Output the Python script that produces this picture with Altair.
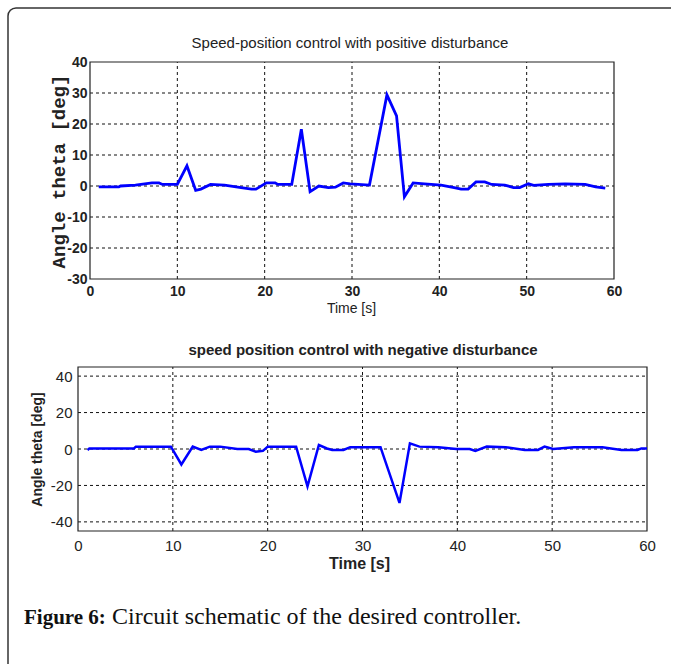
import altair as alt
import pandas as pd

# ---------------- data ----------------
top_time = [1.0, 3.3, 3.5, 5.2, 7.1, 7.9, 8.3, 10.0, 11.1, 12.1, 12.7, 13.8, 15.4, 17.3, 18.5, 19.0,
            20.2, 21.2, 21.5, 23.1, 24.2, 25.2, 26.2, 27.3, 28.1, 29.0, 29.8, 32.0, 34.0, 35.1, 36.0,
            37.0, 38.3, 40.2, 41.7, 42.5, 43.3, 44.2, 45.2, 46.0, 47.5, 48.5, 49.2, 50.2, 50.8, 52.5,
            54.4, 56.7, 57.9, 59.0]
top_theta = [-0.3, -0.3, 0.0, 0.3, 1.0, 1.0, 0.5, 0.5, 6.5, -1.4, -1.0, 0.5, 0.3, -0.5, -1.0, -1.0,
             1.0, 1.0, 0.5, 0.5, 18.3, -1.8, 0.0, -0.5, -0.4, 1.0, 0.7, 0.3, 29.4, 22.6, -3.5,
             1.0, 0.7, 0.3, -0.5, -1.0, -1.0, 1.3, 1.3, 0.5, 0.3, -0.5, -0.5, 0.7, 0.2, 0.5,
             0.7, 0.5, -0.3, -0.7]

bot_time = [1.0, 1.2, 5.9, 6.1, 9.8, 10.9, 12.1, 13.0, 13.9, 15.0, 16.8, 18.0, 18.75, 19.5, 20.0,
            23.0, 24.2, 25.4, 26.25, 26.8, 28.0, 28.7, 31.9, 33.9, 35.0, 36.0, 38.0, 39.9, 41.3,
            41.9, 43.1, 45.1, 47.1, 48.5, 49.2, 50.1, 52.3, 55.3, 57.3, 59.0, 59.4, 60.0]
bot_theta = [-0.5, 0.3, 0.3, 1.3, 1.3, -8.5, 1.3, -0.5, 1.3, 1.3, 0.0, 0.0, -1.5, -1.0, 1.3,
             1.3, -20.5, 2.2, 0.3, -0.5, -0.5, 1.0, 1.0, -29.6, 3.1, 1.3, 1.0, 0.0, 0.0,
             -1.1, 1.3, 1.0, -0.5, -0.5, 1.3, 0.0, 1.0, 1.0, -0.5, -0.5, 0.3, 0.3]

x_ticks = [0, 10, 20, 30, 40, 50, 60]
top_y_ticks = [-30, -20, -10, 0, 10, 20, 30, 40]
bot_y_ticks = [-40, -20, 0, 20, 40]

top_title = "Speed-position control with positive disturbance"
bot_title = "speed position control with negative disturbance"
y_title = "Angle theta [deg]"
x_title = "Time [s]"
caption_bold = "Figure 6:"
caption_rest = "Circuit schematic of the desired controller."

SANS = "Liberation Sans, Arial, sans-serif"
MONO = "Liberation Mono, Courier New, monospace"
SERIF = "Liberation Serif, Times New Roman, serif"
GRID = dict(stroke="#111111", strokeWidth=1, strokeDash=[3, 3])
LABEL = "'' + datum.value"
W = 569
one = pd.DataFrame({"k": [0]})


def panel(time, theta, x_dom, y_dom, x_range, y_grid, x_grid, xaxis, yaxis, line_w):
    xs = alt.Scale(domain=x_dom, range=x_range, nice=False, zero=False) if x_range else \
        alt.Scale(domain=x_dom, nice=False, zero=False)
    ys = alt.Scale(domain=y_dom, nice=False, zero=False)

    hg = pd.DataFrame({"v": y_grid, "a": x_dom[0], "b": x_dom[1]})
    vg = pd.DataFrame({"v": x_grid, "a": y_dom[0], "b": y_dom[1]})
    fr = pd.DataFrame({"x0": [x_dom[0]], "x1": [x_dom[1]], "y0": [y_dom[0]], "y1": [y_dom[1]]})
    df = pd.DataFrame({"t": time, "theta": theta})

    h_rules = alt.Chart(hg).mark_rule(**GRID).encode(
        y=alt.Y("v:Q", scale=ys, axis=yaxis),
        x=alt.X("a:Q", scale=xs, axis=xaxis), x2="b:Q")
    v_rules = alt.Chart(vg).mark_rule(**GRID).encode(
        x=alt.X("v:Q", scale=xs, axis=xaxis),
        y=alt.Y("a:Q", scale=ys, axis=yaxis), y2="b:Q")
    frame = alt.Chart(fr).mark_rect(fillOpacity=0, stroke="#222222", strokeWidth=1.2).encode(
        x=alt.X("x0:Q", scale=xs, axis=xaxis), x2="x1:Q",
        y=alt.Y("y0:Q", scale=ys, axis=yaxis), y2="y1:Q")
    line = alt.Chart(df).mark_line(color="#0000ff", strokeWidth=line_w).encode(
        x=alt.X("t:Q", scale=xs, axis=xaxis),
        y=alt.Y("theta:Q", scale=ys, axis=yaxis))
    return [h_rules, v_rules, frame, line]


# ---------------- top panel ----------------
top_xaxis = alt.Axis(values=x_ticks, grid=False, domain=False, ticks=False, tickSize=0,
                     labelFlush=False, labelFont=SANS, labelFontSize=14, labelFontWeight="bold",
                     labelColor="#222222", labelPadding=5, labelExpr=LABEL,
                     title=x_title, titleFont=SANS, titleFontSize=14, titleFontWeight="normal",
                     titleColor="#222222", titleX=273, titleY=29, titleBaseline="middle",
                     titleAlign="center")
top_yaxis = alt.Axis(values=top_y_ticks, grid=False, domain=False, ticks=False, tickSize=0,
                     offset=-12, labelFont=SANS, labelFontSize=14, labelFontWeight="bold",
                     labelColor="#222222", labelPadding=3, labelExpr=LABEL,
                     title=y_title, titleFont=MONO, titleFontSize=19, titleFontWeight="bold",
                     titleColor="#222222", titleX=-32, titleY=109, titleAngle=270,
                     titleAlign="center", titleBaseline="middle")
top_layers = panel(top_time, top_theta, [0, 60], [-30, 40], [12, 536],
                   [-20, -10, 0, 10, 20, 30], [10, 20, 30, 40, 50],
                   top_xaxis, top_yaxis, 2.8)

deco_col = "#333333"
left_line = alt.Chart(one).mark_rule(color=deco_col, strokeWidth=1.5).encode(
    x=alt.value(-70), y=alt.value(-46), y2=alt.value(602))
top_line = alt.Chart(one).mark_rule(color=deco_col, strokeWidth=1.5).encode(
    y=alt.value(-54), x=alt.value(-62), x2=alt.value(593))
corner = alt.Chart(one).mark_arc(theta=4.7124, theta2=6.2832, radius=8.75, radius2=7.25,
                                 x=-62, y=-46).encode(color=alt.value(deco_col))
top_title_mark = alt.Chart(one).mark_text(font=SANS, fontSize=15, fontWeight="normal",
                                          align="center", baseline="alphabetic",
                                          color="#222222").encode(
    x=alt.value(272), y=alt.value(-14), text=alt.value(top_title))
cap1 = alt.Chart(one).mark_text(font=SERIF, fontSize=21, fontWeight="bold", align="left",
                                baseline="alphabetic", color="#111111").encode(
    x=alt.value(-54), y=alt.value(562), text=alt.value(caption_bold))
cap2 = alt.Chart(one).mark_text(font=SERIF, fontSize=24, fontWeight="normal", align="left",
                                baseline="alphabetic", color="#111111").encode(
    x=alt.value(34), y=alt.value(562), text=alt.value(caption_rest))

top = alt.layer(*top_layers, left_line, top_line, corner, top_title_mark, cap1, cap2).properties(
    width=W, height=217)

# ---------------- bottom panel ----------------
bot_xaxis = alt.Axis(values=x_ticks, grid=False, domain=False, ticks=False, tickSize=0,
                     labelFlush=False, labelFont=SANS, labelFontSize=15, labelFontWeight="normal",
                     labelColor="#222222", labelPadding=7, labelExpr=LABEL,
                     title=x_title, titleFont=SANS, titleFontSize=16, titleFontWeight="bold",
                     titleColor="#222222", titleX=281, titleY=32, titleBaseline="middle",
                     titleAlign="center")
bot_yaxis = alt.Axis(values=bot_y_ticks, grid=False, domain=False, ticks=False, tickSize=0,
                     labelFont=SANS, labelFontSize=15, labelFontWeight="normal",
                     labelColor="#222222", labelPadding=6, labelExpr=LABEL,
                     title=y_title, titleFont=SANS, titleFontSize=14, titleFontWeight="bold",
                     titleColor="#222222", titleX=-41, titleY=82, titleAngle=270,
                     titleAlign="center", titleBaseline="middle")
bot_layers = panel(bot_time, bot_theta, [0, 60], [-45, 45], None,
                   [-40, -20, 0, 20, 40], [10, 20, 30, 40, 50],
                   bot_xaxis, bot_yaxis, 2.5)
bot_title_mark = alt.Chart(one).mark_text(font=SANS, fontSize=15, fontWeight="bold",
                                          align="center", baseline="alphabetic",
                                          color="#222222").encode(
    x=alt.value(285), y=alt.value(-12), text=alt.value(bot_title))
bottom = alt.layer(*bot_layers, bot_title_mark).properties(width=W, height=164)

chart = alt.vconcat(top, bottom, spacing=88, bounds="flush").properties(
    padding={"left": 7, "top": 7, "right": 0, "bottom": 2},
    background="white",
).configure_view(stroke=None)

chart.save("out.html", embed_options={"renderer": "svg", "actions": False})
